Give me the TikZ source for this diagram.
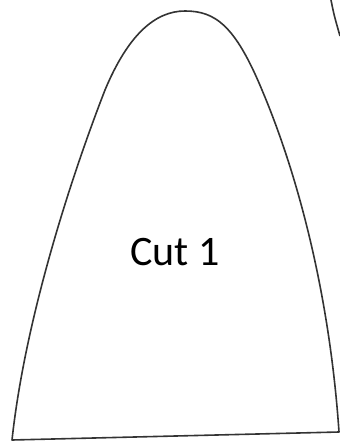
\documentclass[tikz,border=0pt]{standalone}
\usepackage{fontspec}
\setmainfont{Carlito}
\usepackage{tikz}

\begin{document}
\begin{tikzpicture}[x=1pt,y=-1pt]
        \useasboundingbox (0,0) rectangle (340,442);
        \begin{scope}[every path/.style={draw=black!80,line width=1.6pt,line join=round}]
            % the cut
            \draw (339,432) .. controls (330,300) and (300,180) .. (262,90)
                .. controls (235,25) and (215,11) .. (185,11)
                .. controls (155,11) and (128,35) .. (105,90)
                .. controls (70,180) and (25,320) .. (12,440) -- cycle;
            % piece of the next one
            \draw (331,0) .. controls (334,15) .. (340,36);
        \end{scope}
        \node[inner sep=0pt,font=\fontsize{42}{50}\selectfont] (cut1) at (175,252) {Cut 1};
    \end{tikzpicture}
\end{document}
